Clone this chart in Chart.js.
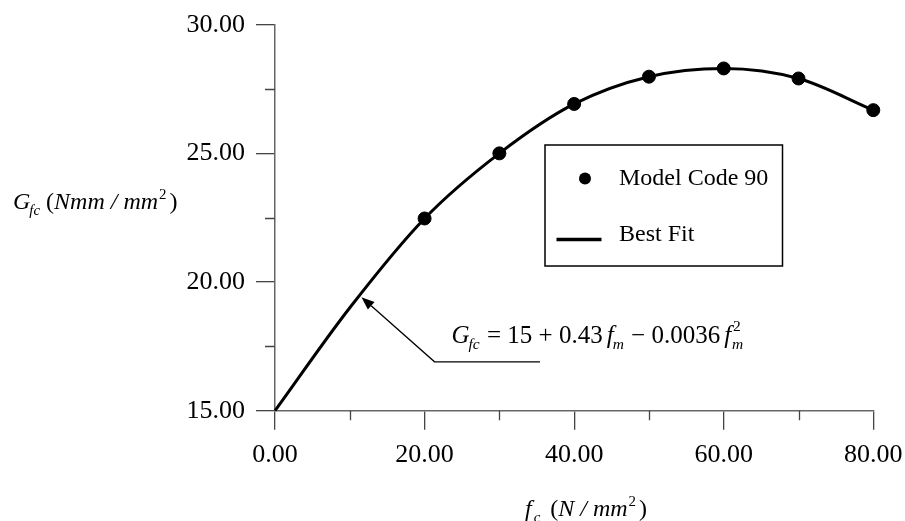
<!DOCTYPE html>
<html><head><meta charset="utf-8">
<script src="https://cdn.jsdelivr.net/npm/chart.js@4/dist/chart.umd.min.js"></script>
<style>html,body{margin:0;padding:0;background:#fff;}</style>
</head><body>
<canvas id="c" width="905" height="521"></canvas>
<script>
// ---- data ----
const mc90X = [20, 30, 40, 50, 60, 70, 80];
const mc90Y = [22.47, 25.0, 26.92, 27.98, 28.3, 27.91, 26.68];
const fitX = [0, 10, 20, 30, 40, 50, 60, 70, 80];
const fitY = [15.0, 19.0, 22.47, 25.0, 26.92, 27.98, 28.3, 27.91, 26.68];
const xMinorTicks = [10, 30, 50, 70];
const yMinorTicks = [17.5, 22.5, 27.5];
const seriesLabels = ['Model Code 90', 'Best Fit'];
// annotation (data coordinates): elbow line + arrow tip, equation anchor
const arrowPath = [[35.43, 16.9], [21.33, 16.9], [11.56, 19.41]];
const equationAnchor = [23.6, 17.62];

const FONT = '"Liberation Serif", "Times New Roman", serif';

function rich(ctx, x, y, parts, size) {
  ctx.textAlign = 'left';
  ctx.textBaseline = 'alphabetic';
  for (const p of parts) {
    if (p.dx) x += p.dx;
    const s = (p.sub || p.sup) ? size * 0.62 : size;
    ctx.font = (p.it ? 'italic ' : '') + s + 'px ' + FONT;
    const yy = y + (p.sub ? size * 0.24 : p.sup ? -size * (p.hi || 0.42) : 0);
    ctx.fillText(p.t, x, yy);
    if (!p.keep) x += ctx.measureText(p.t).width;
  }
}

const extras = {
  id: 'extras',
  afterDraw(chart) {
    const ctx = chart.ctx;
    const xs = chart.scales.x, ys = chart.scales.y;
    const ca = chart.chartArea;
    ctx.save();
    // minor ticks
    ctx.strokeStyle = '#444';
    ctx.lineWidth = 1.3;
    ctx.beginPath();
    for (const v of yMinorTicks) {
      const py = Math.round(ys.getPixelForValue(v)) + 0.5;
      ctx.moveTo(ca.left - 10, py); ctx.lineTo(ca.left, py);
    }
    for (const v of xMinorTicks) {
      const px = Math.round(xs.getPixelForValue(v)) + 0.5;
      ctx.moveTo(px, ca.bottom); ctx.lineTo(px, ca.bottom + 9.5);
    }
    ctx.stroke();

    ctx.fillStyle = '#000';
    ctx.strokeStyle = '#000';
    // legend box
    ctx.lineWidth = 1.5;
    ctx.strokeRect(545, 145, 237.5, 121);
    ctx.beginPath();
    ctx.arc(585, 178.5, 6, 0, Math.PI * 2);
    ctx.fill();
    ctx.lineWidth = 3.5;
    ctx.beginPath();
    ctx.moveTo(556.5, 239.5); ctx.lineTo(601.5, 239.5);
    ctx.stroke();
    ctx.font = '24px ' + FONT;
    ctx.textAlign = 'left';
    ctx.textBaseline = 'alphabetic';
    ctx.fillText(seriesLabels[0], 619, 184.5);
    ctx.fillText(seriesLabels[1], 619, 241);

    // annotation arrow
    const pts = arrowPath.map(p => [xs.getPixelForValue(p[0]), ys.getPixelForValue(p[1])]);
    ctx.lineWidth = 1.3;
    ctx.beginPath();
    ctx.moveTo(pts[0][0], pts[0][1]);
    ctx.lineTo(pts[1][0], pts[1][1]);
    const tip = pts[2], from = pts[1];
    const ang = Math.atan2(tip[1] - from[1], tip[0] - from[0]);
    const L = 13, W = 5;
    const bx = tip[0] - L * Math.cos(ang), by = tip[1] - L * Math.sin(ang);
    ctx.lineTo(bx, by);
    ctx.stroke();
    ctx.beginPath();
    ctx.moveTo(tip[0], tip[1]);
    ctx.lineTo(bx + W * Math.sin(ang), by - W * Math.cos(ang));
    ctx.lineTo(bx - W * Math.sin(ang), by + W * Math.cos(ang));
    ctx.closePath();
    ctx.fill();

    // equation
    const ex = xs.getPixelForValue(equationAnchor[0]), ey = ys.getPixelForValue(equationAnchor[1]);
    rich(ctx, ex, ey, [
      {t: 'G', it: true}, {t: 'fc', it: true, sub: true, dx: -1},
      {t: ' = ', dx: 1}, {t: '15'}, {t: ' + '}, {t: '0.43'},
      {t: 'f', it: true, dx: 4}, {t: 'm', it: true, sub: true, dx: -1},
      {t: ' \u2212 ', dx: 1}, {t: '0.0036'},
      {t: 'f', it: true, dx: 4}, {t: '2', sup: true, keep: true, dx: 2, hi: 0.5}, {t: 'm', it: true, sub: true, dx: -1}
    ], 25);

    // axis titles
    rich(ctx, 13, 209, [
      {t: 'G', it: true}, {t: 'fc', it: true, sub: true, dx: -1}, {t: ' ('},
      {t: 'Nmm / mm', it: true}, {t: '2', sup: true, dx: 1}, {t: ')', dx: 3}
    ], 24);
    rich(ctx, 525, 516, [
      {t: 'f', it: true}, {t: 'c', it: true, sub: true, dx: 2}, {t: ' (', dx: 4},
      {t: 'N / mm', it: true}, {t: '2', sup: true, dx: 1}, {t: ')', dx: 3}
    ], 24);
    ctx.restore();
  }
};

new Chart(document.getElementById('c'), {
  type: 'scatter',
  data: {
    datasets: [
      {
        label: seriesLabels[0],
        data: mc90X.map((x, i) => ({x, y: mc90Y[i]})),
        backgroundColor: '#000', borderColor: '#000',
        pointRadius: 6.5, pointHoverRadius: 6.5, showLine: false, clip: false, order: 0
      },
      {
        label: seriesLabels[1],
        data: fitX.map((x, i) => ({x, y: fitY[i]})),
        borderColor: '#000', borderWidth: 3, pointRadius: 0, showLine: true,
        cubicInterpolationMode: 'monotone', fill: false, clip: false, order: 1
      }
    ]
  },
  options: {
    responsive: false, animation: false,
    layout: {padding: {top: 24.7, right: 31.7, left: 0, bottom: 0}},
    plugins: {legend: {display: false}, tooltip: {enabled: false}},
    scales: {
      x: {
        type: 'linear', min: 0, max: 80,
        afterFit: s => { s.height = 110.3; s.paddingLeft = 0; s.paddingRight = 0; },
        ticks: {stepSize: 20, padding: 10, color: '#000', font: {family: FONT, size: 26},
                callback: v => Number(v).toFixed(2), maxRotation: 0},
        grid: {drawOnChartArea: false, tickLength: 19, color: '#444', lineWidth: 1.3},
        border: {color: '#666', width: 1.5}
      },
      y: {
        type: 'linear', min: 15, max: 30,
        afterFit: s => { s.width = 275; s.paddingTop = 0; s.paddingBottom = 0; },
        ticks: {stepSize: 5, padding: 11, color: '#000', font: {family: FONT, size: 26},
                callback: v => Number(v).toFixed(2)},
        grid: {drawOnChartArea: false, tickLength: 19, color: '#444', lineWidth: 1.3},
        border: {color: '#666', width: 1.5}
      }
    }
  },
  plugins: [extras]
});
</script>
</body></html>
